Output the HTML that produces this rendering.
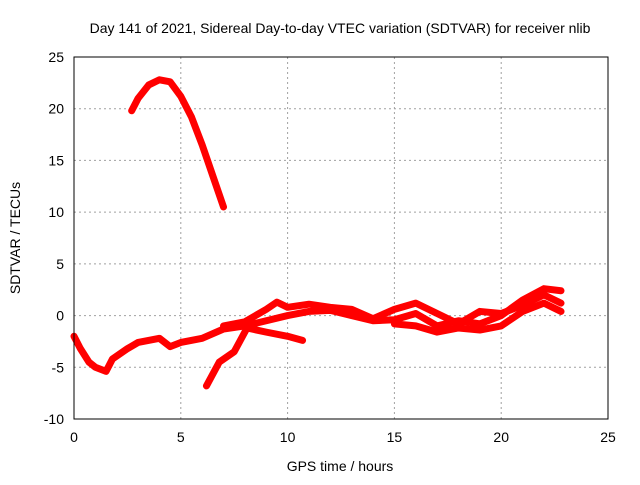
<!DOCTYPE html>
<html><head><meta charset="utf-8"><style>
body{margin:0;background:#fff;}
svg text{font-family:"Liberation Sans",sans-serif;font-size:14px;fill:#000;}
</style></head><body>
<svg id="c" width="640" height="480">
<text x="340" y="33" text-anchor="middle">Day 141 of 2021, Sidereal Day-to-day VTEC variation (SDTVAR) for receiver nlib</text>
<text x="340" y="471" text-anchor="middle">GPS time / hours</text>
<text transform="translate(20,238) rotate(-90)" text-anchor="middle">SDTVAR / TECUs</text>
<g id="grid"></g><g id="series"></g><g id="axes"></g>
</svg>
<script>
const xTicks=[0,5,10,15,20,25];
const yTicks=[-10,-5,0,5,10,15,20,25];
const seriesArc=[[2.7,19.8],[3,21],[3.5,22.3],[4,22.8],[4.5,22.6],[5,21.2],[5.5,19.2],[6,16.5],[6.5,13.5],[7,10.5]];
const seriesMain=[[0,-2],[0.3,-3.2],[0.7,-4.5],[1,-5],[1.5,-5.4],[1.8,-4.2],[2.5,-3.2],[3,-2.6],[4,-2.2],[4.5,-3],[5,-2.6],[6,-2.2],[7,-1.3],[8,-1],[9,-0.5],[10,0],[11,0.4],[12,0.5],[13,0],[14,-0.5],[15,-0.4],[16,0.2],[17,-1],[18,-0.5],[19,-0.8],[20,0],[21,1.5],[22,2.6],[22.8,2.4]];
const seriesRise=[[6.2,-6.8],[6.8,-4.5],[7.5,-3.5],[8.1,-1.2],[9,-1.6],[10,-2],[10.7,-2.4]];
const seriesUpper=[[7,-1],[8,-0.6],[9,0.6],[9.5,1.3],[10,0.8],[11,1.1],[12,0.8],[13,0.6],[14,-0.3],[15,0.6],[16,1.2],[17,0.2],[18,-0.8],[19,0.4],[20,0.2],[21,1],[22,2],[22.8,1.2]];
const seriesTail=[[15,-0.8],[16,-1],[17,-1.6],[18,-1.2],[19,-1.4],[20,-1],[21,0.4],[22,1.2],[22.8,0.4]];
const X=v=>74+(v/25)*534, Y=v=>57+(25-v)/35*362;
const ns='http://www.w3.org/2000/svg';
const grid=document.getElementById('grid'),axes=document.getElementById('axes'),ser=document.getElementById('series');
function mk(t,a,p){const e=document.createElementNS(ns,t);for(const k in a)e.setAttribute(k,a[k]);p.appendChild(e);return e;}
xTicks.forEach(t=>{
 if(t>0&&t<25){const l=mk('line',{x1:X(t),x2:X(t),y1:57,y2:419,stroke:'#a0a0a0','stroke-dasharray':'2,3'},grid);
 
 }
 const tx=mk('text',{x:X(t),y:442,'text-anchor':'middle'},axes);tx.textContent=t;
 
 
});
yTicks.forEach(t=>{
 if(t>-10&&t<25){const l=mk('line',{x1:74,x2:608,y1:Y(t),y2:Y(t),stroke:'#a0a0a0','stroke-dasharray':'2,3'},grid);
 
 }
 const tx=mk('text',{x:64,y:Y(t)+5,'text-anchor':'end'},axes);tx.textContent=t;
 
 
});
const fr=mk('rect',{x:74,y:57,width:534,height:362,fill:'none',stroke:'#000'},axes);


[[seriesArc,'series-arc'],[seriesMain,'series-main'],[seriesRise,'series-rise'],[seriesUpper,'series-upper'],[seriesTail,'series-tail']].forEach(([d,n])=>{
 const p=mk('polyline',{points:d.map(q=>X(q[0])+','+Y(q[1])).join(' '),fill:'none',stroke:'#ff0000','stroke-width':7,'stroke-linejoin':'round','stroke-linecap':'round'},ser);
 
 
});
</script>
</body></html>
